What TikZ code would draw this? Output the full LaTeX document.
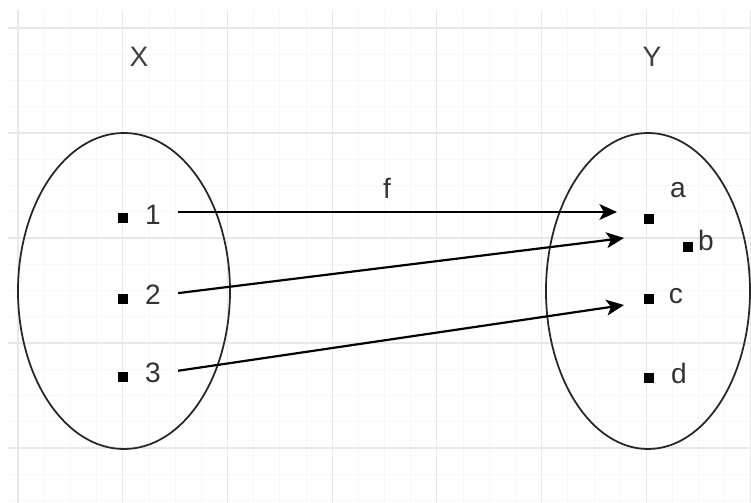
\documentclass[tikz,border=0pt]{standalone}
\usepackage{fontspec}
\setmainfont{Liberation Sans}
\usetikzlibrary{arrows.meta}
\tikzset{
  grid major/.style={black!9, line width=0.6pt},
  grid minor/.style={black!3, line width=0.4pt},
  set outline/.style={line width=1pt, black!85},
  elem dot/.style={fill=black, inner sep=0pt, minimum size=0.19cm},
  elem label/.style={font=\fontsize{16}{19}\selectfont, text=black!80, inner sep=1pt},
  set label/.style={font=\fontsize{16}{19}\selectfont, text=black!75},
  map arrow/.style={-{Stealth[length=10pt, width=9pt, inset=2.5pt]}, line width=1.25pt, shorten <=7\pgflinewidth},
}

\begin{document}
\begin{tikzpicture}[x=0.02cm, y=-0.02cm]
  \useasboundingbox (0,0) rectangle (751,503);
  % background grid
  \begin{scope}
    \clip (8,10) rectangle (751,503);
    \foreach \k in {0,...,28} \draw[grid minor] ({18+26.175*\k},10) -- ++(0,493);
    \foreach \k in {0,...,18} \draw[grid minor] (8,{28+26.25*\k}) -- ++(743,0);
    \foreach \k in {0,...,7} \draw[grid major] ({18+104.7*\k},10) -- ++(0,493);
    \foreach \k in {0,...,4} \draw[grid major] (8,{28+105*\k}) -- ++(743,0);
  \end{scope}
  % the two sets
  \draw[set outline] (124,291) ellipse [x radius=106, y radius=158];
  \draw[set outline] (648,291) ellipse [x radius=102, y radius=158];
  \node[set label] (X) at (139,57) {X};
  \node[set label] (Y) at (652,57) {Y};
  % domain
  \node[elem dot] (d1) at (123,218) {};
  \node[elem dot] (d2) at (123,299) {};
  \node[elem dot] (d3) at (123,377) {};
  \node[elem label] (t1) at (153,215) {1};
  \node[elem label] (t2) at (153,295) {2};
  \node[elem label] (t3) at (153,373) {3};
  % codomain
  \node[elem dot] (da) at (649,219) {};
  \node[elem dot] (db) at (688,247) {};
  \node[elem dot] (dc) at (649,299) {};
  \node[elem dot] (dd) at (649,378) {};
  \node[elem label] (ta) at (678,190) {a};
  \node[elem label] (tb) at (706,240) {b};
  \node[elem label] (tc) at (676,296) {c};
  \node[elem label] (td) at (679,373) {d};
  % mapping
  \node[elem label] (f) at (387,188) {f};
  \coordinate (ea) at (617,212);
  \coordinate (eb) at (624,238);
  \coordinate (ec) at (624,305);
  \draw[map arrow] (t1.east |- 0,212) -- (ea);
  \draw[map arrow] (t2.east) -- (eb);
  \draw[map arrow] (t3.east) -- (ec);
\end{tikzpicture}
\end{document}
